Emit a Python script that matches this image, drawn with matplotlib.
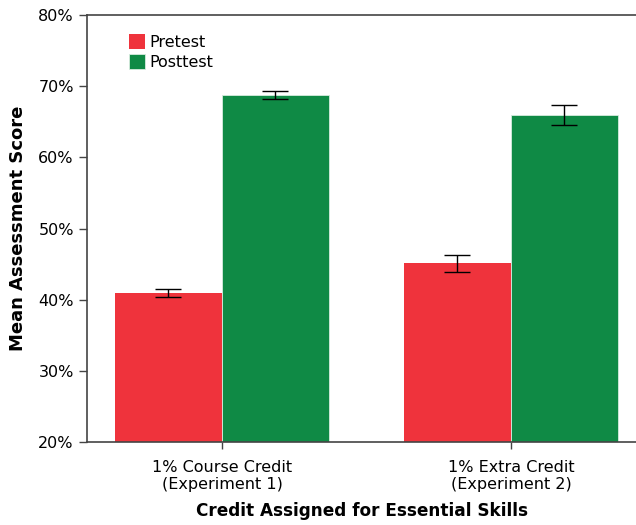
import numpy as np
import matplotlib.pyplot as plt
from matplotlib.ticker import PercentFormatter

# mean scores (%) and error bar half-widths per condition
groups = ['1% Course Credit\n(Experiment 1)', '1% Extra Credit\n(Experiment 2)']
pretest = [41.0, 45.1]
pretest_err = [0.55, 1.2]
posttest = [68.8, 65.9]
posttest_err = [0.55, 1.4]

red = '#ef333c'
green = '#0f8a45'

fig = plt.figure(figsize=(6.36, 5.25), dpi=100)
ax = fig.add_axes([0.1368, 0.158, 0.8632, 0.8134])

x = np.arange(len(groups))
w = 0.37
ebar = dict(ecolor='black', elinewidth=1, capsize=9.5, capthick=1)
ax.bar(x - w / 2, pretest, w, yerr=pretest_err, color=red, label='Pretest',
       error_kw=ebar, zorder=2)
ax.bar(x + w / 2, posttest, w, yerr=posttest_err, color=green, label='Posttest',
       error_kw=ebar, zorder=2, edgecolor='#d7ecdf', linewidth=0.6)

ax.set_ylim(20, 80)
ax.set_xlim(-0.467, 1.433)
ax.set_yticks(np.arange(20, 81, 10))
ax.yaxis.set_major_formatter(PercentFormatter(decimals=0))
ax.set_xticks(x)
ax.set_xticklabels(groups, fontsize=11.5, linespacing=1.15)
ax.tick_params(axis='y', labelsize=11.5, length=6, width=1, color='#444444')
ax.tick_params(axis='x', length=5, width=1, color='#444444', pad=8)

for side in ['left', 'top', 'bottom']:
    ax.spines[side].set_color('#444444')
    ax.spines[side].set_linewidth(1.2)
ax.spines['right'].set_visible(False)

ax.set_ylabel('Mean Assessment Score', fontsize=13, fontweight='bold', labelpad=8)
ax.set_xlabel('Credit Assigned for Essential Skills', fontsize=12.2, fontweight='bold',
              labelpad=7)

ax.legend(loc='upper left', bbox_to_anchor=(0.05, 0.99), frameon=False, fontsize=11.5,
          handlelength=1.0, handleheight=1.1, handletextpad=0.3, labelspacing=0.25)

plt.savefig('out.png', dpi=100)
